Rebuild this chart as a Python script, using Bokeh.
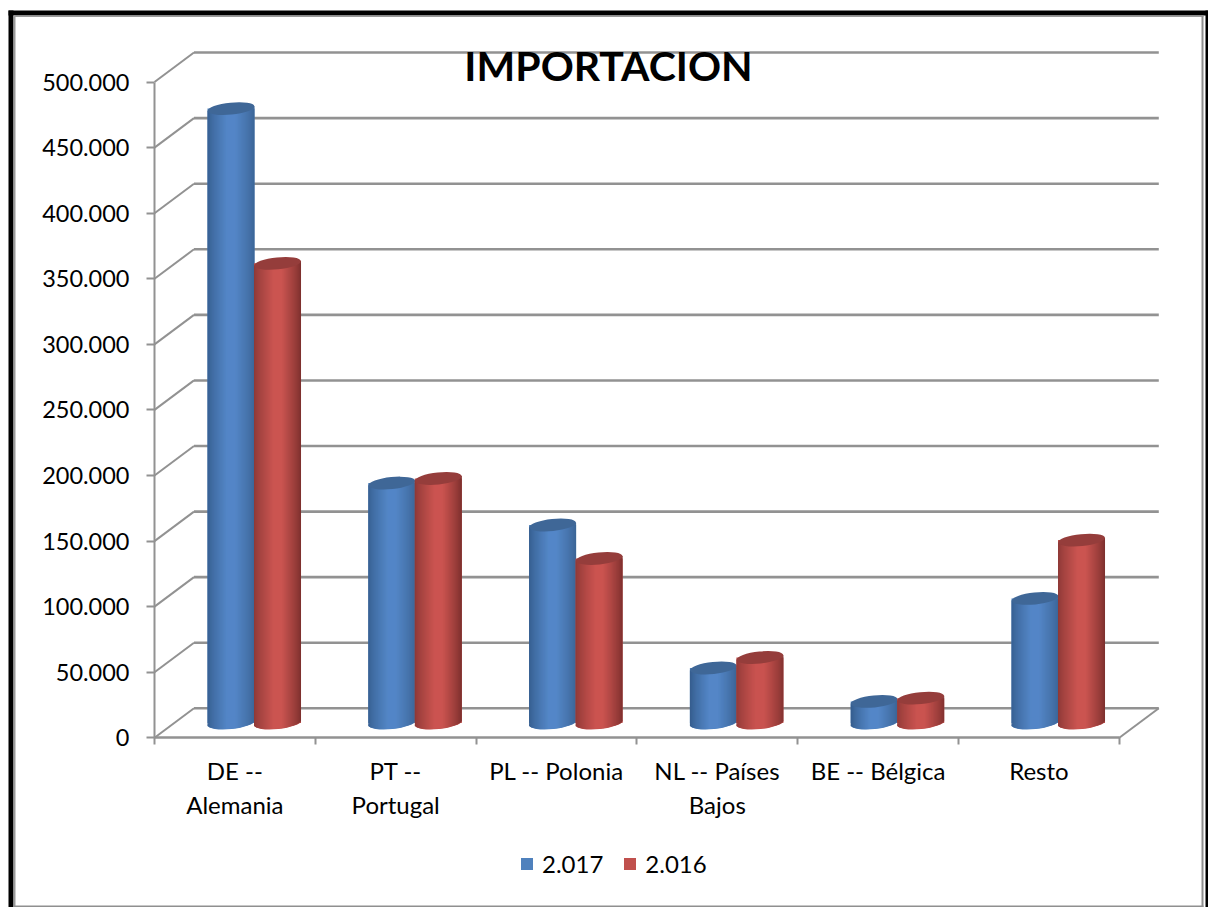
from bokeh.plotting import figure
from bokeh.models import FixedTicker, Label, Legend, LegendItem, Range1d
from bokeh.embed import file_html
from bokeh.resources import INLINE
import math

# ---- data ----
categories = ["DE --\nAlemania", "PT --\nPortugal", "PL -- Polonia",
              "NL -- Países\nBajos", "BE -- Bélgica", "Resto"]
values_2017 = [468500, 183000, 151000, 42000, 16500, 95000]
values_2016 = [350500, 186500, 125500, 50000, 19000, 139500]
series_names = ["2.017", "2.016"]
y_ticks = [0, 50000, 100000, 150000, 200000, 250000, 300000, 350000, 400000, 450000, 500000]
y_labels = ["0", "50.000", "100.000", "150.000", "200.000", "250.000",
            "300.000", "350.000", "400.000", "450.000", "500.000"]
title_text = "IMPORTACION"

# ---- layout (pixels of the picture) ----
W, H = 1208, 907
ORIGIN_X, ORIGIN_Y = 154.0, 737.3
CAT_PX = 160.8
VAL_PX = 1.3115 / 1000
DEPTH_X_PX, DEPTH_Y_PX = 39.5, 29.5
FONT = "Lato"
GRID = "#929292"

def xd(px):
    return (px - ORIGIN_X) / CAT_PX

def yd(py):
    return (ORIGIN_Y - py) / VAL_PX

dx = DEPTH_X_PX / CAT_PX
dy = DEPTH_Y_PX / VAL_PX
n = len(categories)

p = figure(width=W, height=H, output_backend="svg", toolbar_location=None,
           x_range=Range1d(xd(0), xd(W)), y_range=Range1d(yd(H), yd(0)),
           min_border=0, outline_line_color=None, background_fill_color="white",
           border_fill_color="white")
p.grid.visible = False

# frame of the page
for left, top, right, bottom, color in [
    (8, 10, 1208, 15, "black"),
    (8, 10, 13, 907, "black"),
    (1205, 10, 1208, 907, "black"),
    (13, 15, 15, 907, "#9a9a9a"),
    (13, 15, 1203, 16.5, "#9a9a9a"),
    (1201, 15, 1203, 907, "#8f8f8f"),
    (13, 905, 1203, 907, "#8f8f8f"),
]:
    p.quad(left=xd(left), right=xd(right), top=yd(top), bottom=yd(bottom),
           fill_color=color, line_color=None)

# walls and floor
p.segment(x0=[0] * len(y_ticks), y0=y_ticks, x1=[dx] * len(y_ticks), y1=[v + dy for v in y_ticks],
          line_color=GRID, line_width=2)
p.segment(x0=[dx] * len(y_ticks), y0=[v + dy for v in y_ticks],
          x1=[n + dx] * len(y_ticks), y1=[v + dy for v in y_ticks],
          line_color=GRID, line_width=2.6)
p.segment(x0=[n], y0=[0], x1=[n + dx], y1=[dy], line_color=GRID, line_width=2)

# cylinders
BAR_W = 47 / CAT_PX
HALF_PX = 23.5
SEMI_MINOR_PX = 6.0
TILT_PX = 2.4
STRIPS = 47

def mix(a, b, k):
    return "#%02x%02x%02x" % tuple(round(x + (y - x) * k) for x, y in zip(a, b))

def shade(dark_l, dark_r, light, u):
    t = (u + 1) / 2
    if t < 0.5:
        k = min(t / 0.42, 1.0)
        return mix(dark_l, light, k ** 0.8)
    k = min((1 - t) / 0.42, 1.0)
    return mix(dark_r, light, k ** 0.8)

def cylinders(vals, offset, flat, top_color, dark_l, dark_r, light):
    base = DEPTH_Y_PX / 2 / VAL_PX
    centres = [i + offset for i in range(n)]
    angle = math.atan2(TILT_PX, HALF_PX)
    body = p.quad(left=[c - BAR_W / 2 for c in centres], right=[c + BAR_W / 2 for c in centres],
                  bottom=[base] * n, top=[v + base for v in vals],
                  fill_color=flat, line_color=None)
    p.ellipse(x=centres, y=[base] * n, width=47, height=2 * SEMI_MINOR_PX,
              width_units="screen", height_units="screen", angle=angle,
              fill_color=flat, line_color=None)
    lefts, rights, tops, bottoms, colors = [], [], [], [], []
    for c, v in zip(centres, vals):
        for s in range(STRIPS):
            a = -1 + 2 * s / STRIPS
            b = -1 + 2 * (s + 1) / STRIPS
            u = (a + b) / 2
            lefts.append(c + a * BAR_W / 2)
            rights.append(c + b * BAR_W / 2 + (0.002 if s < STRIPS - 1 else 0))
            tops.append(v + base + TILT_PX * u / VAL_PX)
            arc = SEMI_MINOR_PX * math.sqrt(max(0, 1 - u * u)) - 0.4
            bottoms.append(base + (TILT_PX * u - max(arc, 0)) / VAL_PX)
            colors.append(shade(dark_l, dark_r, light, u))
    p.quad(left=lefts, right=rights, top=tops, bottom=bottoms, fill_color=colors, line_color=None)
    p.ellipse(x=centres, y=[v + base for v in vals], width=47, height=2 * SEMI_MINOR_PX,
              width_units="screen", height_units="screen",
              angle=angle, fill_color=top_color, line_color=None)
    return body

blue = cylinders(values_2017, 0.4757, "#4f81bd", "#3f6797",
                 (52, 92, 140), (58, 98, 146), (84, 135, 200))
red = cylinders(values_2016, 0.7650, "#c0504d", "#953d3b",
                (140, 56, 54), (122, 46, 44), (203, 84, 80))

# axes
xa = p.xaxis[0]
xa.fixed_location = 0
xa.bounds = (0, n)
xa.ticker = FixedTicker(ticks=[i + 0.5 for i in range(n)], minor_ticks=list(range(n + 1)))
xa.major_label_overrides = {i + 0.5: c for i, c in enumerate(categories)}
xa.major_tick_line_color = None
xa.major_tick_in = 0
xa.major_tick_out = 0
xa.minor_tick_in = 0
xa.minor_tick_out = 7
xa.minor_tick_line_color = GRID
xa.minor_tick_line_width = 2
xa.axis_line_color = GRID
xa.axis_line_width = 2.6
xa.major_label_standoff = 11
xa.major_label_text_font = FONT
xa.major_label_text_font_size = "24px"
xa.major_label_text_color = "black"
xa.major_label_text_line_height = 1.18
xa.major_label_orientation = "horizontal"

ya = p.yaxis[0]
ya.fixed_location = 0
ya.bounds = (0, 500000)
ya.ticker = FixedTicker(ticks=y_ticks, minor_ticks=[])
ya.major_label_overrides = dict(zip(y_ticks, y_labels))
ya.major_tick_in = 0
ya.major_tick_out = 8
ya.major_tick_line_color = GRID
ya.major_tick_line_width = 2
ya.minor_tick_line_color = None
ya.axis_line_color = GRID
ya.axis_line_width = 2
ya.major_label_standoff = 17
ya.major_label_text_font = FONT
ya.major_label_text_font_size = "23.5px"
ya.major_label_text_color = "black"

# title
p.add_layout(Label(x=xd(608), y=yd(64.5), text=title_text, text_font=FONT, text_font_style="bold",
                   text_font_size="41px", text_color="black", text_align="center",
                   text_baseline="middle"))

# legend
legend = Legend(items=[LegendItem(label=series_names[0], renderers=[blue]),
                       LegendItem(label=series_names[1], renderers=[red])],
                orientation="horizontal", location=(519, 29), margin=0, padding=0,
                spacing=19, glyph_width=15, glyph_height=15, label_standoff=8,
                label_text_font=FONT, label_text_font_size="24px", label_text_color="black",
                border_line_color=None, background_fill_alpha=0)
p.add_layout(legend)

open("out.html", "w").write(file_html(p, INLINE))
